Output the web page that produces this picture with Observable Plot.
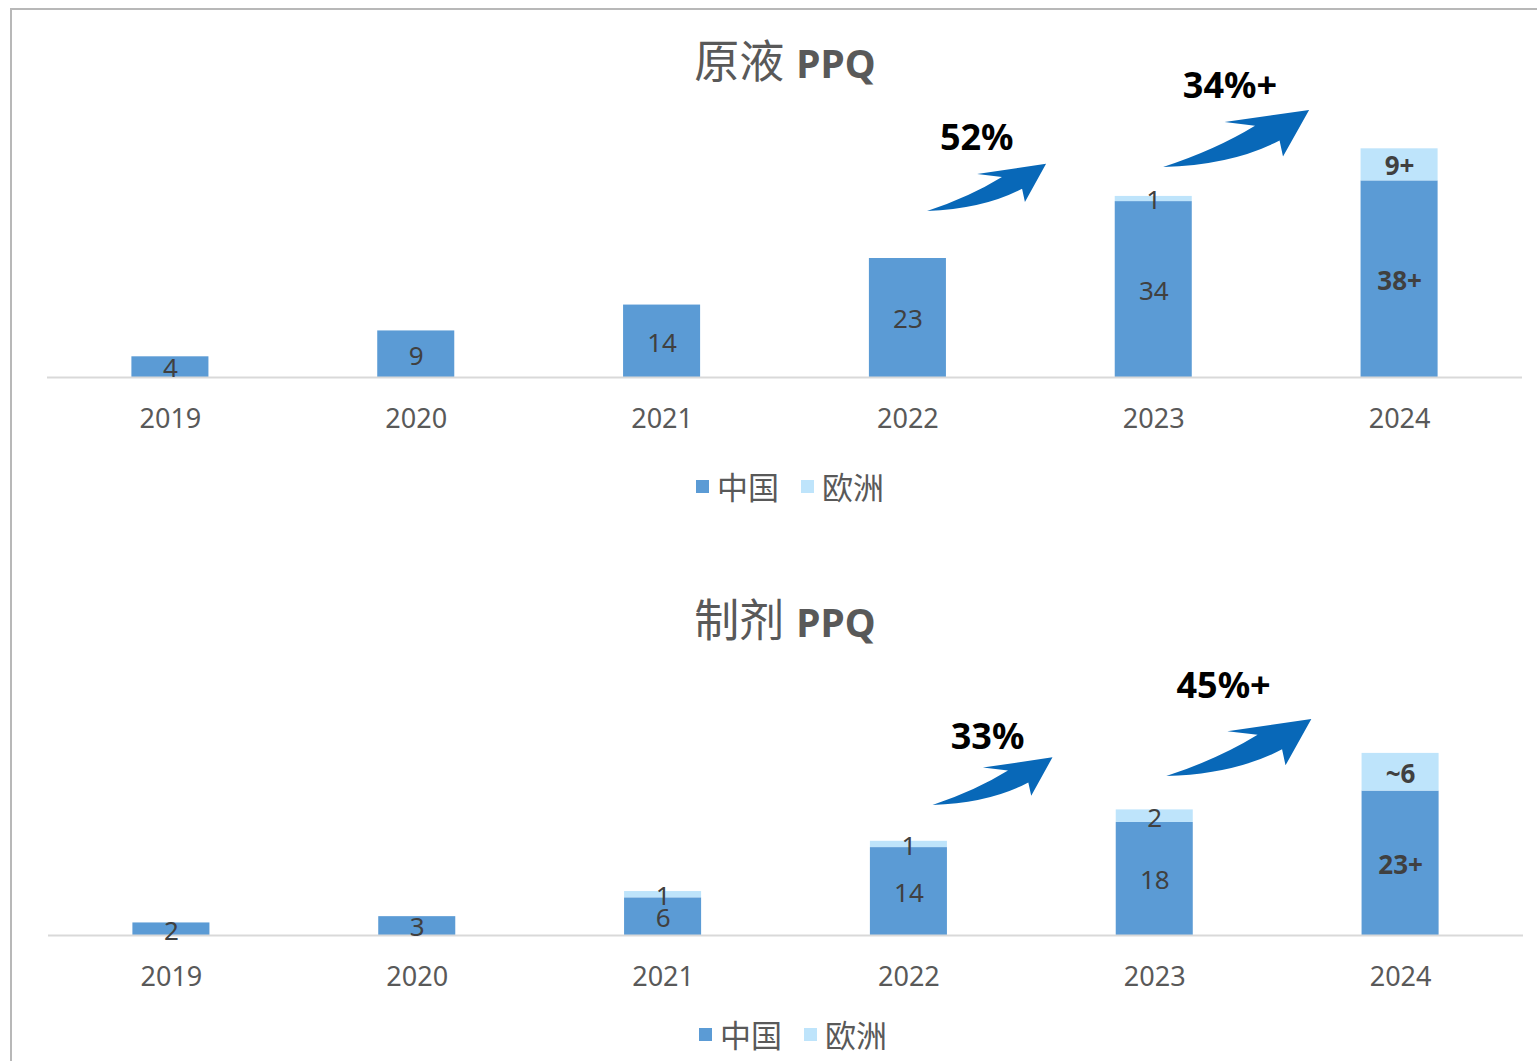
<!DOCTYPE html>
<html>
<head>
<meta charset="utf-8">
<script src="https://cdn.jsdelivr.net/npm/d3@7"></script>
<script src="https://cdn.jsdelivr.net/npm/@observablehq/plot@0.6"></script>
<style>
  html, body { margin: 0; padding: 0; background: #fff; }
  #page { position: relative; width: 1537px; height: 1061px; overflow: hidden; font-family: 'Noto Sans', 'Noto Sans CJK SC', sans-serif; }
  .chart { position: absolute; left: 0; }
  .title { position: absolute; left: 0; width: 1570px; display: flex; justify-content: center; align-items: baseline; color: #595959; line-height: 50px; white-space: nowrap; }
  .title .cjk { font-family: 'Noto Sans CJK SC', sans-serif; font-size: 45px; font-weight: 400; margin-right: 12px; }
  .title .lat { font-family: 'Noto Sans', sans-serif; font-size: 39px; font-weight: 700; }
  .legend { position: absolute; display: flex; align-items: center; color: #595959; font-family: 'Noto Sans CJK SC', sans-serif; font-size: 31px; line-height: 36px; white-space: nowrap; }
  .legend .sw { display: inline-block; width: 13px; height: 13px; margin-right: 8px; }
  .legend .item { display: flex; align-items: center; margin-right: 22px; }
  #frame { position: absolute; left: 10px; top: 8px; width: 1600px; height: 1200px; border-left: 2px solid #b8b8b8; border-top: 2px solid #b8b8b8; pointer-events: none; z-index: 5; }
</style>
</head>
<body>
<div id="page">
  <div id="top" class="chart" style="top:0px"></div>
  <div id="bottom" class="chart" style="top:558px"></div>
  <div class="title" style="top:34px"><span class="cjk">原液</span><span class="lat">PPQ</span></div>
  <div class="title" style="top:593px"><span class="cjk">制剂</span><span class="lat">PPQ</span></div>
  <div class="legend" id="leg1" style="left:696px; top:468px"></div>
  <div class="legend" id="leg2" style="left:699px; top:1016px"></div>
  <div id="frame"></div>
</div>
<script>
// ---------- data ----------
const years = [2019, 2020, 2021, 2022, 2023, 2024];
const seriesNames = ["中国", "欧洲"];
const seriesColors = ["#5B9BD5", "#BEE4FB"];

// 原液 PPQ
const apiChina = [4, 9, 14, 23, 34, 38];
const apiEurope = [0, 0, 0, 0, 1, 6.2];
const apiChinaLabels = ["4", "9", "14", "23", "34", "38+"];
const apiEuropeLabels = ["", "", "", "", "1", "9+"];
const apiGrowthText = ["52%", "34%+"];
const apiGrowthX = [2022.28, 2023.31];
const apiGrowthY = [46.2, 56.2];
const apiArrowX1 = [2022.08, 2023.04];
const apiArrowY1 = [32.1, 40.6];
const apiArrowX2 = [2022.564, 2023.634];
const apiArrowY2 = [41.2, 51.6];

// 制剂 PPQ
const dpChina = [2, 3, 6, 14, 18, 23];
const dpEurope = [0, 0, 1, 1, 2, 6];
const dpChinaLabels = ["2", "3", "6", "14", "18", "23+"];
const dpEuropeLabels = ["", "", "1", "1", "2", "~6"];
const dpGrowthText = ["33%", "45%+"];
const dpGrowthX = [2022.32, 2023.28];
const dpGrowthY = [31.5, 39.6];
const dpArrowX1 = [2022.098, 2023.049];
const dpArrowY1 = [20.7, 25.3];
const dpArrowX2 = [2022.586, 2023.639];
const dpArrowY2 = [28.3, 34.4];

const boldYear = 2024;
const FONT = "'Noto Sans', 'Noto Sans CJK SC', sans-serif";

function buildRows(china, europe, chinaLabels, europeLabels) {
  const rows = [];
  years.forEach((yr, i) => {
    rows.push({year: yr, series: seriesNames[0], y1: 0, y2: china[i], label: chinaLabels[i]});
    rows.push({year: yr, series: seriesNames[1], y1: china[i], y2: china[i] + europe[i], label: europeLabels[i]});
  });
  return rows;
}

function swooshPath(x1, y1, x2, y2) {
  const dx = x2 - x1, dy = y2 - y1, L = Math.hypot(dx, dy);
  const ux = dx / L, uy = dy / L, vx = uy, vy = -ux;
  const p = (a, b) => [x1 + (a * ux + b * vx) * L, y1 + (a * uy + b * vy) * L].map(v => v.toFixed(2)).join(",");
  return `M${p(0,0)}Q${p(0.35,-0.02)} ${p(0.642,0.032)}L${p(0.47,0.125)}L${p(1,0)}L${p(0.737,-0.216)}L${p(0.754,-0.112)}Q${p(0.42,-0.15)} ${p(0,0)}Z`;
}

function arrowMark(X1, Y1, X2, Y2) {
  return (index, scales) => {
    const g = document.createElementNS("http://www.w3.org/2000/svg", "g");
    X1.forEach((_, i) => {
      const path = document.createElementNS("http://www.w3.org/2000/svg", "path");
      path.setAttribute("d", swooshPath(scales.x(X1[i]), scales.y(Y1[i]), scales.x(X2[i]), scales.y(Y2[i])));
      path.setAttribute("fill", "#0868B8");
      g.appendChild(path);
    });
    return g;
  };
}

function makeChart({china, europe, chinaLabels, europeLabels, yMax, mLeft, mRight, gText, gX, gY, aX1, aY1, aX2, aY2}) {
  const rows = buildRows(china, europe, chinaLabels, europeLabels);
  const labelRows = rows.filter(d => d.label !== "");
  return Plot.plot({
    width: 1537,
    height: 450,
    marginLeft: mLeft,
    marginRight: mRight,
    marginTop: 20,
    marginBottom: 73,
    style: {fontFamily: FONT, background: "transparent", overflow: "visible"},
    x: {domain: [2018.5, 2024.5], axis: null},
    y: {domain: [0, yMax], axis: null},
    color: {domain: seriesNames, range: seriesColors},
    marks: [
      Plot.rectY(rows, {x1: d => d.year - 0.5, x2: d => d.year + 0.5, y1: "y1", y2: "y2", fill: "series", insetLeft: 84.4, insetRight: 84.4}),
      Plot.ruleY([0], {stroke: "#d9d9d9", strokeWidth: 2}),
      Plot.axisX(years, {tickSize: 0, tickPadding: 31, fontSize: 27, fill: "#595959", tickFormat: d => String(d), label: null}),
      Plot.text(labelRows.filter(d => d.year !== boldYear), {x: "year", y: d => (d.y1 + d.y2) / 2, dy: 2, text: "label", fontSize: 26, fill: "#404040", fontFamily: FONT}),
      Plot.text(labelRows.filter(d => d.year === boldYear), {x: "year", y: d => (d.y1 + d.y2) / 2, dy: 2, text: "label", fontSize: 26, fontWeight: "bold", fill: "#404040", fontFamily: FONT}),
      arrowMark(aX1, aY1, aX2, aY2),
      Plot.text(gText, {x: (d, i) => gX[i], y: (d, i) => gY[i], text: d => d, fontSize: 36, fontWeight: "bold", fill: "#000", fontFamily: FONT})
    ]
  });
}

document.getElementById("top").appendChild(makeChart({
  china: apiChina, europe: apiEurope, chinaLabels: apiChinaLabels, europeLabels: apiEuropeLabels,
  yMax: 69, mLeft: 47, mRight: 15,
  gText: apiGrowthText, gX: apiGrowthX, gY: apiGrowthY,
  aX1: apiArrowX1, aY1: apiArrowY1, aX2: apiArrowX2, aY2: apiArrowY2
}));
document.getElementById("bottom").appendChild(makeChart({
  china: dpChina, europe: dpEurope, chinaLabels: dpChinaLabels, europeLabels: dpEuropeLabels,
  yMax: 56.85, mLeft: 48, mRight: 14,
  gText: dpGrowthText, gX: dpGrowthX, gY: dpGrowthY,
  aX1: dpArrowX1, aY1: dpArrowY1, aX2: dpArrowX2, aY2: dpArrowY2
}));

function legend(id) {
  const el = document.getElementById(id);
  seriesNames.forEach((name, i) => {
    const item = document.createElement("span");
    item.className = "item";
    const sw = document.createElement("span");
    sw.className = "sw";
    sw.style.background = seriesColors[i];
    const t = document.createElement("span");
    t.textContent = name;
    item.appendChild(sw);
    item.appendChild(t);
    el.appendChild(item);
  });
}
legend("leg1");
legend("leg2");
</script>
</body>
</html>
